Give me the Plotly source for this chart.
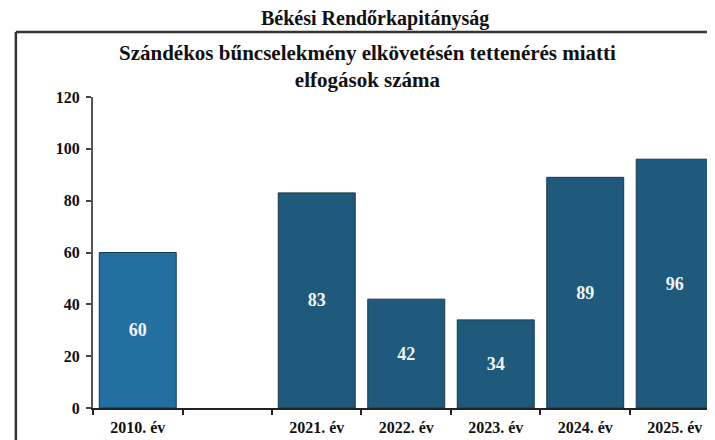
import plotly.graph_objects as go

categories = ["2010. év", " ", "2021. év", "2022. év", "2023. év", "2024. év", "2025. év"]
values = [60, None, 83, 42, 34, 89, 96]
bar_colors = ["#2170a1", "#1f5a7c", "#1f5a7c", "#1f5a7c", "#1f5a7c", "#1f5a7c", "#1f5a7c"]
y_ticks = [0, 20, 40, 60, 80, 100, 120]
page_title = "Békési Rendőrkapitányság"
chart_title = "Szándékos bűncselekmény elkövetésén tettenérés miatti<br>elfogások száma"

serif = "Liberation Serif, Times New Roman, serif"

fig = go.Figure()
fig.add_trace(go.Bar(
    x=categories,
    y=values,
    width=0.86,
    marker=dict(color=bar_colors, line=dict(color="#17384d", width=1)),
    text=[str(v) if v is not None else "" for v in values],
    textposition="inside",
    insidetextanchor="middle",
    textfont=dict(family=serif, size=18, color="#f4f4f4", weight="bold"),
    hoverinfo="skip",
))

fig.update_layout(
    width=715, height=440,
    margin=dict(l=85, r=8, t=89, b=40),
    paper_bgcolor="white", plot_bgcolor="white",
    showlegend=False,
    xaxis=dict(
        type="category", range=[-0.5, 6.45],
        tickson="boundaries", ticks="outside", ticklen=5, tickwidth=2, tickcolor="#222",
        showline=True, linecolor="#222", linewidth=2,
        showgrid=False, ticklabelstandoff=4,
        tickfont=dict(family=serif, size=16, color="#111", weight="bold"),
    ),
    yaxis=dict(
        range=[0, 120], tickvals=y_ticks,
        ticks="outside", ticklen=5, tickwidth=2, tickcolor="#444",
        showline=True, linecolor="#555", linewidth=2,
        showgrid=False, zeroline=False, ticklabelstandoff=3,
        tickfont=dict(family=serif, size=16, color="#111", weight="bold"),
    ),
    shapes=[
        dict(type="line", xref="paper", yref="paper", x0=-0.124, x1=1.2, y0=1.209, y1=1.209,
             line=dict(color="#333", width=2.5)),
        dict(type="line", xref="paper", yref="paper", x0=-0.124, x1=-0.124, y0=1.209, y1=-0.3,
             line=dict(color="#333", width=2.5)),
    ],
    annotations=[
        dict(text=page_title, xref="paper", yref="paper", x=0.453, y=1.251, showarrow=False,
             xanchor="center", yanchor="middle",
             font=dict(family=serif, size=20, color="#111", weight="bold")),
        dict(text=chart_title, xref="paper", yref="paper", x=0.442, y=1.098, showarrow=False,
             xanchor="center", yanchor="middle",
             font=dict(family=serif, size=21, color="#111", weight="bold")),
    ],
)

fig.write_html("out.html")
